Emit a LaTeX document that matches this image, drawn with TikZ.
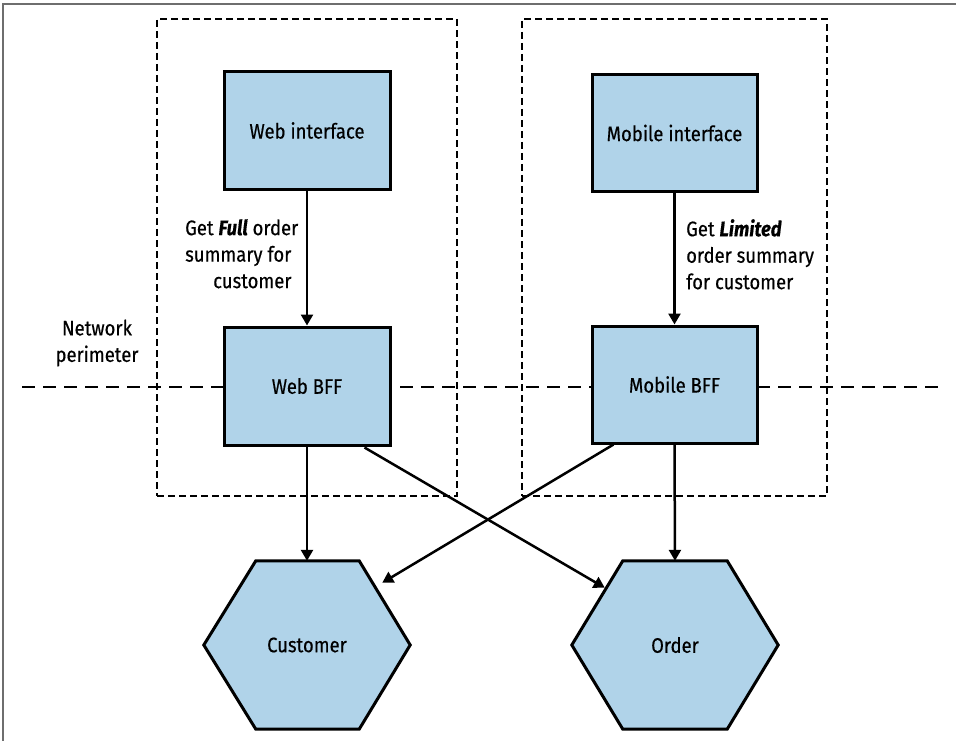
\documentclass[tikz,border=0pt]{standalone}
\usepackage{fontspec}
\setmainfont{Fira Sans}[FakeStretch=0.88, FakeBold=0.4]
\usetikzlibrary{arrows.meta,calc}
\definecolor{boxblue}{RGB}{176,211,233}
\definecolor{framegray}{RGB}{110,110,110}
\tikzset{
  lbl/.style={font=\fontsize{21}{26.5}\selectfont, inner sep=0pt},
  svcbox/.style={draw=black, line width=3pt, fill=boxblue, minimum width=166pt, minimum height=117pt, inner sep=0pt, font=\fontsize{21}{26}\selectfont},
  hexnode/.style={minimum width=206pt, minimum height=168pt, inner sep=0pt},
  hexdraw/.style={draw=black, line width=3pt, fill=boxblue, line join=miter},
  zonebox/.style={draw=black, line width=2.6pt, dash pattern=on 7pt off 4pt, minimum width=300pt, minimum height=477pt, inner sep=0pt},
  perim/.style={draw=black, line width=2.6pt, dash pattern=on 13pt off 8pt},
  conn/.style={draw=black, line width=2.5pt, -{Triangle[length=11pt,width=12pt]}},
}
\begin{document}
\begin{tikzpicture}[x=1pt,y=-1pt]
\useasboundingbox (0,0) rectangle (956,741);
% outer frame (left and top)
\coordinate (fbl) at (3,741);
\coordinate (ftl) at (3,4);
\coordinate (ftr) at (956,4);
\draw[framegray, line width=2pt] (fbl) -- (ftl) -- (ftr);

% network perimeter
\coordinate (np1) at (22,387);
\coordinate (np2) at (945,387);
\draw[perim] (np1) -- (np2);
\node[lbl, align=center] (nplabel) at (97,343) {Network\\perimeter};

% zones
\node[zonebox] (webzone) at (307,257.5) {};
\node[zonebox, minimum width=305pt] (mobzone) at (674.5,257.5) {};

% service boxes
\node[svcbox] (wi) at (307,130.5) {Web interface};
\node[svcbox, minimum width=165pt, minimum height=116pt] (mi) at (674.5,133) {Mobile interface};
\node[svcbox, minimum height=118pt] (wbff) at (307,386) {Web BFF};
\node[svcbox, minimum width=165pt] (mbff) at (674.5,384.5) {Mobile BFF};

% hexagons
\node[hexnode] (cust) at (307,645) {};
\draw[hexdraw] ($(cust.north west)+(52,0)$) -- ($(cust.north east)+(-51,0)$) -- (cust.east) -- ($(cust.south east)+(-51,0)$) -- ($(cust.south west)+(52,0)$) -- (cust.west) -- cycle;
\node[lbl] (custlabel) at (cust.center) {Customer};
\node[hexnode] (ord) at (675,645) {};
\draw[hexdraw] ($(ord.north west)+(51,0)$) -- ($(ord.north east)+(-51,0)$) -- (ord.east) -- ($(ord.south east)+(-51,0)$) -- ($(ord.south west)+(51,0)$) -- (ord.west) -- cycle;
\node[lbl] (ordlabel) at (ord.center) {Order};

% connectors
\draw[conn] (wi.south) -- (wbff.north);
\draw[conn] (mi.south) -- (mbff.north);
\draw[conn] (wbff.south) -- (cust.north);
\draw[conn] (mbff.south) -- (ord.north);
\coordinate (wbffx) at ($(wbff.south east)+(-27,1)$);
\coordinate (ordx) at ($(ord.north west)+(33,27)$);
\draw[conn] (wbffx) -- (ordx);
\coordinate (mbffx) at ($(mbff.south west)+(23,0)$);
\coordinate (custx) at ($(cust.north east)+(-28,22)$);
\draw[conn] (mbffx) -- (custx);

% connector labels
\node[lbl, align=left, anchor=north west] (fulllbl) at (185,219) {Get \textbf{\textit{Full}} order\\summary for\\\hspace*{28pt}customer};
\node[lbl, align=left, anchor=north west] (limlbl) at (686,219) {Get \textbf{\textit{Limited}}\\order summary\\for customer};
\end{tikzpicture}
\end{document}
